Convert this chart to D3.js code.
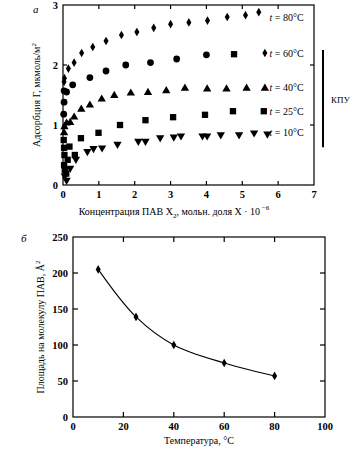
<!DOCTYPE html>
<html>
<head>
<meta charset="utf-8">
<script src="https://cdn.jsdelivr.net/npm/d3@7"></script>
<style>
  body { margin: 0; background: #fff; }
  svg { font-family: "Liberation Serif", "DejaVu Serif", serif; }
  text { fill: #000; }
</style>
</head>
<body>
<script>
// --- panel a: adsorption isotherms (X in мольн. доля ·10^-6, Г in мкмоль/м2)
const t80x = [0.03, 0.04, 0.15, 0.31, 0.52, 0.83, 1.2, 1.63, 2.06, 2.53, 3.0, 3.51, 4.03, 4.58, 5.09, 5.46];
const t80y = [1.72, 1.78, 1.94, 2.04, 2.2, 2.3, 2.4, 2.5, 2.55, 2.62, 2.68, 2.71, 2.74, 2.8, 2.83, 2.88];
const t60x = [0.02, 0.03, 0.03, 0.1, 0.27, 0.75, 1.2, 1.75, 2.44, 3.17, 4.0, 4.77, 5.63];
const t60y = [1.18, 1.38, 1.57, 1.55, 1.67, 1.79, 1.9, 2.0, 2.04, 2.1, 2.17, 2.18, 2.2];
const t60m = ["c", "c", "c", "c", "c", "c", "c", "c", "c", "c", "c", "s", "d"];
const t40x = [0.03, 0.04, 0.1, 0.2, 0.31, 0.51, 0.75, 1.08, 1.43, 1.89, 2.37, 2.88, 3.4, 4.02, 4.56, 5.12, 5.63];
const t40y = [0.87, 0.97, 1.03, 1.04, 1.13, 1.26, 1.33, 1.43, 1.49, 1.53, 1.54, 1.57, 1.61, 1.6, 1.6, 1.61, 1.61];
const t25x = [0.02, 0.03, 0.04, 0.03, 0.05, 0.09, 0.13, 0.18, 0.33, 0.5, 0.99, 1.59, 2.3, 3.07, 3.96, 4.74, 5.6];
const t25y = [0.75, 0.62, 0.5, 0.33, 0.25, 0.19, 0.42, 0.64, 0.5, 0.78, 0.87, 1.0, 1.08, 1.13, 1.17, 1.23, 1.23];
const t10x = [0.05, 0.1, 0.2, 0.36, 0.68, 0.85, 1.09, 1.52, 2.1, 2.3, 2.71, 3.09, 3.29, 3.89, 4.02, 4.4, 4.91, 5.33, 5.7];
const t10y = [0.15, 0.08, 0.28, 0.43, 0.56, 0.61, 0.62, 0.68, 0.73, 0.73, 0.79, 0.8, 0.82, 0.82, 0.82, 0.84, 0.84, 0.87, 0.85];
const seriesLabels = ["80°C", "60°C", "40°C", "25°C", "10°C"];
const labelLevels = [2.8, 2.2, 1.62, 1.23, 0.88];
const xTicksA = [0, 1, 2, 3, 4, 5, 6, 7];
const yTicksA = [0, 1, 2, 3];

// --- panel б: area per molecule vs temperature
const temps = [10, 25, 40, 60, 80];
const areas = [205, 139, 100, 75, 57];
const xTicksB = [0, 20, 40, 60, 80, 100];
const yTicksB = [0, 50, 100, 150, 200, 250];

const W = 362, H = 460;
const svg = d3.select("body").append("svg")
    .attr("width", W).attr("height", H);

const symMap = {
    d: d3.symbolDiamond, c: d3.symbolCircle, t: d3.symbolTriangle,
    s: d3.symbolSquare, v: d3.symbolTriangle
};
const sizeMap = { d: 22, c: 36, t: 30, s: 40, v: 30 };

function frame(g, x, y, xt, yt, tl) {
    const [x0, x1] = x.range(), [y0, y1] = y.range();
    g.append("rect").attr("x", x0).attr("y", y1)
        .attr("width", x1 - x0).attr("height", y0 - y1)
        .attr("fill", "none").attr("stroke", "#000").attr("stroke-width", 1.2);
    xt.slice(1, -1).forEach(v => {
        g.append("line").attr("x1", x(v)).attr("x2", x(v)).attr("y1", y0).attr("y2", y0 - tl).attr("stroke", "#000").attr("stroke-width", 1.2);
        g.append("line").attr("x1", x(v)).attr("x2", x(v)).attr("y1", y1).attr("y2", y1 + tl).attr("stroke", "#000").attr("stroke-width", 1.2);
    });
    yt.slice(1, -1).forEach(v => {
        g.append("line").attr("x1", x0).attr("x2", x0 + tl).attr("y1", y(v)).attr("y2", y(v)).attr("stroke", "#000").attr("stroke-width", 1.2);
        g.append("line").attr("x1", x1).attr("x2", x1 - tl).attr("y1", y(v)).attr("y2", y(v)).attr("stroke", "#000").attr("stroke-width", 1.2);
    });
    g.selectAll(".xl").data(xt).enter().append("text")
        .attr("x", d => x(d)).attr("y", y0 + 13)
        .attr("text-anchor", "middle").attr("font-size", 10.5).attr("font-weight", "bold")
        .text(d => d);
    g.selectAll(".yl").data(yt).enter().append("text")
        .attr("x", x0 - 5).attr("y", d => y(d) + 4)
        .attr("text-anchor", "end").attr("font-size", 10.5).attr("font-weight", "bold")
        .text(d => d);
}

// ---------- panel a
const xA = d3.scaleLinear().domain([0, 7]).range([63, 314]);
const yA = d3.scaleLinear().domain([0, 3]).range([185, 5]);
const gA = svg.append("g");
frame(gA, xA, yA, xTicksA, yTicksA, 4);

const seriesA = [
    { xs: t80x, ys: t80y, m: t80x.map(() => "d") },
    { xs: t60x, ys: t60y, m: t60m },
    { xs: t40x, ys: t40y, m: t40x.map(() => "t") },
    { xs: t25x, ys: t25y, m: t25x.map(() => "s") },
    { xs: t10x, ys: t10y, m: t10x.map(() => "v") }
];
seriesA.forEach(s => {
    const pts = s.xs.map((v, i) => ({ x: v, y: s.ys[i], m: s.m[i] }));
    gA.selectAll(null).data(pts).enter().append("path")
        .attr("d", d => d3.symbol().type(symMap[d.m]).size(sizeMap[d.m])())
        .attr("transform", d => "translate(" + xA(d.x) + "," + yA(d.y) + ")" + (d.m === "v" ? " rotate(180)" : ""))
        .attr("fill", "#000");
});

const lab = gA.selectAll(".lab").data(seriesLabels).enter().append("text")
    .attr("x", xA(5.76)).attr("y", (d, i) => yA(labelLevels[i]) + 3.5)
    .attr("font-size", 10);
lab.append("tspan").attr("font-style", "italic").text("t");
lab.append("tspan").text(d => " = " + d);

// КПУ bracket
gA.append("line").attr("x1", 323).attr("x2", 323).attr("y1", yA(2.25)).attr("y2", yA(0.63))
    .attr("stroke", "#000").attr("stroke-width", 2);
gA.append("text").attr("x", 331).attr("y", 103).attr("font-size", 9).text("КПУ");

gA.append("text").attr("x", 33).attr("y", 13).attr("font-size", 11).attr("font-style", "italic").text("а");

const ytA = gA.append("text").attr("transform", "translate(40," + yA(1.5) + ") rotate(-90)")
    .attr("text-anchor", "middle").attr("font-size", 10);
ytA.append("tspan").text("Адсорбция Г, мкмоль/м");
ytA.append("tspan").attr("dy", -4).attr("font-size", 7).text("2");

const xtA = gA.append("text").attr("x", 174).attr("y", 215)
    .attr("text-anchor", "middle").attr("font-size", 10);
xtA.append("tspan").text("Концентрация ПАВ X");
xtA.append("tspan").attr("dy", 3).attr("font-size", 7).text("2");
xtA.append("tspan").attr("dy", -3).text(", мольн. доля X · 10");
xtA.append("tspan").attr("dy", -5).attr("font-size", 7).text(" −6");

// ---------- panel б
const xB = d3.scaleLinear().domain([0, 100]).range([73, 325]);
const yB = d3.scaleLinear().domain([0, 250]).range([417, 237]);
const gB = svg.append("g");
frame(gB, xB, yB, xTicksB, yTicksB, 5);

const ptsB = temps.map((t, i) => ({ x: t, y: areas[i] }));
gB.append("path").datum(ptsB)
    .attr("d", d3.line().x(d => xB(d.x)).y(d => yB(d.y)).curve(d3.curveCatmullRom.alpha(0.5)))
    .attr("fill", "none").attr("stroke", "#000").attr("stroke-width", 1.1);
gB.selectAll(null).data(ptsB).enter().append("path")
    .attr("d", d3.symbol().type(d3.symbolDiamond).size(22))
    .attr("transform", d => "translate(" + xB(d.x) + "," + yB(d.y) + ")")
    .attr("fill", "#000");

gB.append("text").attr("x", 21).attr("y", 242).attr("font-size", 11).attr("font-style", "italic").text("б");

const ytB = gB.append("text").attr("transform", "translate(44," + yB(125) + ") rotate(-90)")
    .attr("text-anchor", "middle").attr("font-size", 10);
ytB.append("tspan").text("Площадь на молекулу ПАВ, Å");
ytB.append("tspan").attr("dy", -4).attr("font-size", 7).text("2");

gB.append("text").attr("x", 199).attr("y", 444)
    .attr("text-anchor", "middle").attr("font-size", 10).text("Температура, °С");
</script>
</body>
</html>
